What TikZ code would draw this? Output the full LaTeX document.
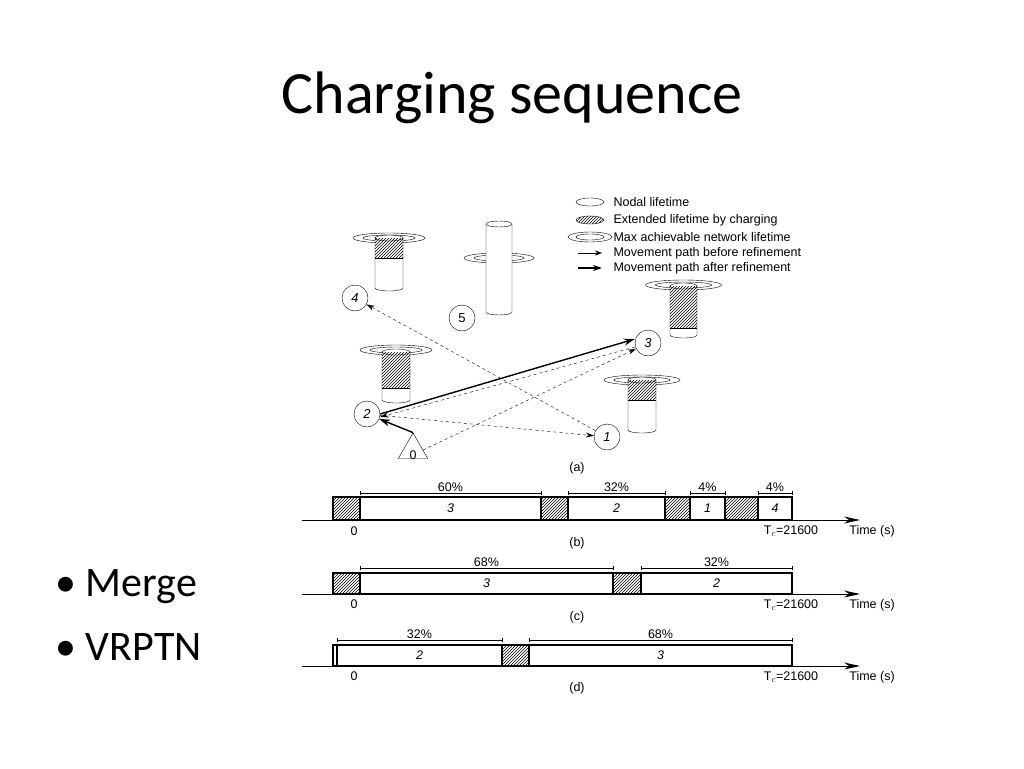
\documentclass[tikz,border=0pt]{standalone}
\usepackage{fontspec}
\setmainfont{Carlito}
\newfontfamily\arial{Liberation Sans}
\usetikzlibrary{patterns,arrows.meta,shapes.geometric}
\newcommand\mycyl[7]{% x1 x2 top bottom hatchbottom ringy ringhw
  \pgfmathsetmacro\cx{(#1+#2)/2}\pgfmathsetmacro\rx{(#2-#1)/2}
  \draw (\cx,#6) ellipse[x radius=#7,y radius=5];
  \draw (\cx,#6) ellipse[x radius=#7-10,y radius=3];
  \fill[white] (#1,#3) rectangle (#2,#4);
  \ifdim #5pt>#3pt \fill[pattern=north east lines] (#1,#3) rectangle (#2,#5);
  \draw (#1,#5) -- (#2,#5);\fi
  \draw (#1,#3) -- (#1,#4) arc[start angle=180,end angle=0,x radius=\rx,y radius=3] -- (#2,#3);
  \draw (\cx,#3) ellipse[x radius=\rx,y radius=3];
}
\begin{document}
\begin{tikzpicture}[x=1pt,y=-1pt,
  nd/.style={draw,circle,minimum size=26pt,inner sep=0,font=\arial\itshape\fontsize{13}{15}\selectfont},
  dsh/.style={dashed,thin,-{Stealth[length=8pt,width=5pt]}},
  thk/.style={line width=1.4pt,-{Stealth[length=11pt,width=7pt]}},
  sm/.style={font=\arial\fontsize{12.5}{14}\selectfont},
  seg/.style={draw,line width=1.2pt,font=\arial\itshape\fontsize{12.5}{14}\selectfont},
  ht/.style={draw,line width=1.2pt,pattern=north east lines},
  dim/.style={|-|,thin}]
\useasboundingbox (0,0) rectangle (1024,768);
\node[font=\fontsize{60}{66}\selectfont] (title) at (512,98) {Charging sequence};
\node[anchor=west,font=\fontsize{42}{48}\selectfont] (b1) at (52,587) {\textbullet\ Merge};
\node[anchor=west,font=\fontsize{42}{48}\selectfont] (b2) at (52,647) {\textbullet\ VRPTN};
% cylinders
\mycyl{375}{403}{238}{288}{258}{238}{36}
\mycyl{486}{512}{224}{312}{224}{258}{35}
\mycyl{382}{410}{352}{400}{388}{350}{36}
\mycyl{670}{697}{286}{335}{328}{285}{38}
\mycyl{628}{656}{380}{430}{400}{380}{38}
% nodes
\node[nd] (n4) at (355,298) {4};
\node[nd,font=\arial\fontsize{13}{15}\selectfont] (n5) at (462,318) {5};
\node[nd] (n3) at (648,343) {3};
\node[nd] (n2) at (367,414) {2};
\node[nd] (n1) at (607,437) {1};
\node[draw,regular polygon,regular polygon sides=3,minimum size=34pt,inner sep=0] (n0) at (413,450) {};
\node[sm] at (413,455) {0};
\draw[dsh] (n1) -- (n4);
\draw[dsh] (n2) -- (n1);
\draw[dsh] (n0.east) -- (n3);
\draw[dsh] ([yshift=-4pt]n3.west) -- ([yshift=-3pt]n2.east);
\draw[thk] (n2.east) -- ([yshift=4pt]n3.west);
\draw[thk] (n0.north) -- (n2);
\node[sm] at (577,468) {(a)};
% legend
\draw (590,202) ellipse[x radius=14,y radius=4];
\draw[pattern=north east lines] (590,220) ellipse[x radius=14,y radius=4];
\draw (590,237) ellipse[x radius=22,y radius=5];
\draw (590,237) ellipse[x radius=14,y radius=3];
\draw[-{Stealth[length=7pt,width=5pt]}] (578,253) -- (602,253);
\draw[line width=1.4pt,-{Stealth[length=9pt,width=6pt]}] (578,268) -- (602,268);
\foreach \y/\t in {202/Nodal lifetime,220/Extended lifetime by charging,237/Max achievable network lifetime,253/Movement path before refinement,268/Movement path after refinement}
  \node[sm,anchor=west] at (610,\y) {\t};
% timeline b
\draw[line width=1pt,-{Stealth[length=16pt,width=7pt]}] (302,520) -- (860,520);
\draw[ht] (333,497) rectangle (360,520);
\draw[seg] (360,497) rectangle node{3} (541,520);
\draw[ht] (541,497) rectangle (568,520);
\draw[seg] (568,497) rectangle node{2} (665,520);
\draw[ht] (665,497) rectangle (690,520);
\draw[seg] (690,497) rectangle node{1} (725,520);
\draw[ht] (725,497) rectangle (758,520);
\draw[seg] (758,497) rectangle node{4} (792,520);
\draw[dim] (360,493) -- node[sm,above=-2pt]{60\%} (541,493);
\draw[dim] (568,493) -- node[sm,above=-2pt]{32\%} (665,493);
\draw[dim] (690,493) -- node[sm,above=-2pt]{4\%} (725,493);
\draw[dim] (758,493) -- node[sm,above=-2pt]{4\%} (792,493);
\node[sm] at (354,531) {0};
\node[sm] at (791,531) {T$_c$=21600};
\node[sm] at (872,531) {Time (s)};
\node[sm] at (577,543) {(b)};
% timeline c
\draw[line width=1pt,-{Stealth[length=16pt,width=7pt]}] (302,594) -- (860,594);
\draw[ht] (333,573) rectangle (360,594);
\draw[seg] (360,573) rectangle node{3} (613,594);
\draw[ht] (613,573) rectangle (641,594);
\draw[seg] (641,573) rectangle node{2} (792,594);
\draw[dim] (360,568) -- node[sm,above=-2pt]{68\%} (613,568);
\draw[dim] (641,568) -- node[sm,above=-2pt]{32\%} (792,568);
\node[sm] at (354,604) {0};
\node[sm] at (791,605) {T$_c$=21600};
\node[sm] at (872,605) {Time (s)};
\node[sm] at (577,617) {(c)};
% timeline d
\draw[line width=1pt,-{Stealth[length=16pt,width=7pt]}] (302,666) -- (860,666);
\draw[seg] (333,645) rectangle (337,666);
\draw[seg] (337,645) rectangle node{2} (502,666);
\draw[ht] (502,645) rectangle (529,666);
\draw[seg] (529,645) rectangle node{3} (792,666);
\draw[dim] (337,640) -- node[sm,above=-2pt]{32\%} (502,640);
\draw[dim] (529,640) -- node[sm,above=-2pt]{68\%} (792,640);
\node[sm] at (354,676) {0};
\node[sm] at (791,677) {T$_c$=21600};
\node[sm] at (872,677) {Time (s)};
\node[sm] at (577,688) {(d)};
\end{tikzpicture}
\end{document}
